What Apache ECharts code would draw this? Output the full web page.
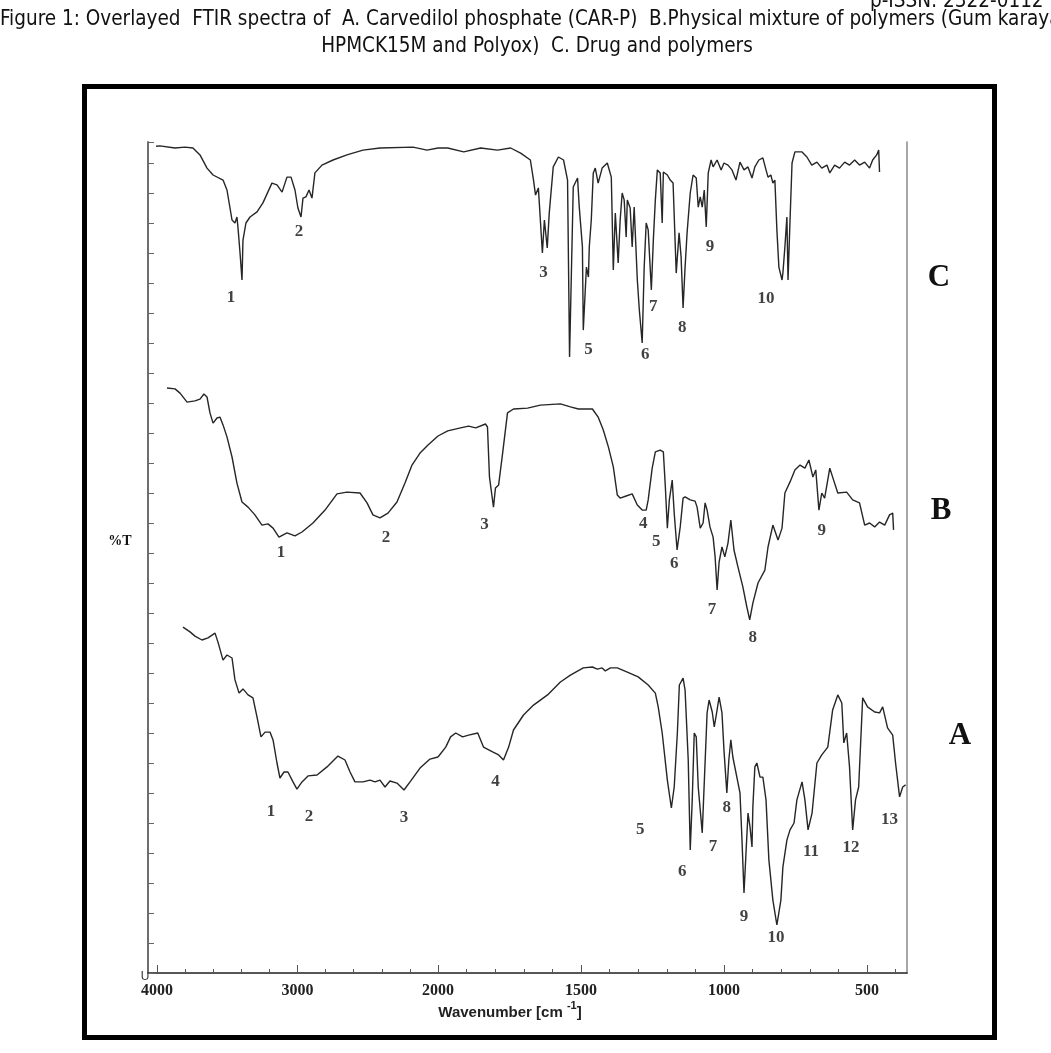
<!DOCTYPE html>
<html>
<head>
<meta charset="utf-8">
<script src="https://cdn.jsdelivr.net/npm/echarts@6/dist/echarts.min.js"></script>
<style>
html,body{margin:0;padding:0;background:#fff;}
#chart{width:1051px;height:1053px;}
</style>
</head>
<body>
<div id="chart"></div>
<script>
// ---- Data: [wavenumber (cm-1), %T (stacked display units)] ----
const specC = [
[4064,275.3],[3979,275.7],[3872,275],[3801,275.3],[3744,275],[3694,272.7],[3644,268.3],[3601,266],[3530,264.3],[3502,261],
[3466,251],[3445,250],[3431,252],[3424,248.7],[3409,240],[3395,231],[3388,244.3],[3367,250],[3338,252],[3288,253.7],
[3246,256.7],[3182,263.3],[3146,262.7],[3110,260.3],[3075,265.3],[3046,265.3],[3018,261],[2997,255],[2975,252],[2961,258.3],
[2940,258.7],[2918,261],[2897,258.3],[2876,266.7],[2826,269.3],[2747,271],[2648,272.7],[2534,274.3],[2413,275],[2178,275.3],
[2078,274.3],[2000,275],
[1966,275],[1910,273.7],[1851,275],[1792,274.3],[1746,275],[1711,273.3],[1677,271],[1666,264.3],[1659,259.3],[1649,261.7],
[1635,240],[1628,251],[1618,241.7],[1611,253.3],[1597,268.7],[1579,272],[1561,271],[1547,264.3],[1540,205.3],[1527,262],
[1512,265],[1506,255.3],[1495,242],[1492,214.3],[1481,235.3],[1474,232],[1471,242],[1464,251],[1457,266.7],[1450,268.3],
[1440,263.3],[1426,268.3],[1408,270],[1394,265.3],[1387,234.3],[1380,253.3],[1370,236.7],[1363,251],[1356,260],[1349,257.7],
[1342,245.3],[1338,257.7],[1328,255],[1321,242],[1314,255.3],[1303,231],[1296,221],[1286,210],[1279,235.3],[1272,250],
[1265,247.7],[1254,227.7],[1247,244.3],[1240,257.7],[1233,267.7],[1223,266.7],[1216,250],[1212,267],[1198,266],[1188,264.3],
[1178,263.3],[1167,233.3],[1157,246.7],[1150,238.7],[1143,221.7],[1136,235.3],[1129,246.7],[1118,260],[1108,266],[1097,265],
[1090,255.3],[1083,258.7],[1076,255.3],[1069,261],[1062,248.7],[1055,266.7],[1045,271],[1038,268.7],[1024,271],[1010,267.7],
[1000,270],[986,269.3],[972,267.7],[958,264.3],[944,270.3],[930,267.7],[916,268.7],[902,265],[892,268.7],[878,271],
[864,271.7],[853,267.7],[846,265.3],[836,266],[829,263.3],[822,264.3],[815,247.7],[808,235.3],[797,231],[794,233.3],
[787,242],[780,252],[776,231],[769,251],[762,270],[752,273.7],[727,273.7],[710,272],[693,269.3],[675,270.3],
[658,268.3],[640,269.3],[630,266.7],[613,269.3],[596,268.3],[578,270.3],[561,269.3],[543,271],[526,269.3],[508,270.3],
[491,268.3],[480,271],[466,272.7],[459,274.3],[456,267]
];
const specB = [
[3929,195],[3872,194.7],[3836,193.3],[3786,190.3],[3730,190.7],[3694,191.3],[3666,193],[3644,192],[3623,186.7],[3601,183.3],
[3573,185],[3552,185.3],[3530,182.7],[3502,178.7],[3466,172],[3431,163.3],[3395,157],[3352,155.3],[3303,152.7],[3253,149.3],
[3210,149.7],[3174,148.3],[3132,145.3],[3075,146.7],[3018,145.7],[2968,147],[2890,150],[2804,154.3],[2719,159.7],[2648,160.3],
[2555,160],[2505,156.7],[2463,152.7],[2413,151.7],[2356,153.3],[2292,157],[2235,163.3],[2185,169.3],[2128,173.3],[2071,176],
[2000,179],
[1966,180.7],[1921,181.7],[1893,182.3],[1868,181.7],[1834,183],[1827,182],[1820,165.3],[1806,155.3],[1799,161.7],[1788,162.7],
[1774,173.3],[1757,186.7],[1736,188],[1687,188.3],[1642,189.3],[1572,189.7],[1537,188.7],[1509,188],[1460,188],[1440,185.3],
[1422,181],[1404,175.3],[1387,168.7],[1373,159.3],[1363,158.3],[1342,159],[1321,159.7],[1303,156],[1286,154.3],[1272,154.3],
[1265,157.7],[1251,168.3],[1240,173.7],[1223,174.3],[1212,173.7],[1205,162],[1198,148.3],[1191,157.7],[1181,164.3],[1174,153.3],
[1164,141],[1153,148.7],[1143,158.3],[1136,158.7],[1118,157.7],[1101,157.3],[1094,155.3],[1083,148.3],[1073,150],[1066,156.7],
[1059,154.3],[1049,148.7],[1038,145.3],[1031,138.7],[1024,127.7],[1017,137],[1007,142],[997,138.7],[986,143.3],[976,151],
[965,141],[951,135.3],[934,128.7],[920,122],[910,117.7],[899,123.3],[881,130],[857,134.3],[846,142],[829,149.3],
[811,144.3],[797,148.3],[787,160],[769,163.7],[752,167.7],[734,169.3],[717,168.3],[703,171],[689,165.3],[679,167.7],
[668,154.3],[658,160],[648,158.3],[630,168.3],[620,165.3],[602,160],[571,160.3],[550,157.7],[526,156.7],[508,149.3],
[491,150],[473,148.7],[456,150.3],[438,149.3],[421,152.7],[410,153.3],[407,147.7]
];
const specA = [
[3815,115.3],[3765,113.7],[3730,112.3],[3680,111],[3637,111.7],[3587,113.3],[3566,110.3],[3530,104.3],[3502,106],[3466,105],
[3445,97.7],[3416,93.3],[3388,94.7],[3352,92.7],[3317,91.7],[3288,85.3],[3260,78.7],[3231,80.3],[3196,80.3],[3174,77.7],
[3146,70],[3125,65],[3096,67],[3068,67],[3032,63.7],[3004,61.3],[2968,63.7],[2925,65.7],[2861,66],[2790,68.7],
[2712,72.3],[2662,71],[2626,67],[2591,63.7],[2534,63.7],[2484,64.3],[2448,63.7],[2413,64.3],[2377,62],[2342,64],
[2292,63.3],[2242,61],[2199,63.7],[2128,68.3],[2057,71.3],[2000,72],
[1973,75.3],[1956,78.7],[1938,80],[1914,78.7],[1893,79.3],[1861,80],[1841,75.3],[1809,73.7],[1788,72.7],[1771,71],
[1753,75.3],[1736,81],[1701,86],[1666,89.3],[1617,92.7],[1572,97],[1537,99.3],[1492,101.7],[1460,102],[1443,101.3],
[1426,101.7],[1415,100.7],[1397,101.7],[1373,101.7],[1338,100.3],[1300,98.7],[1265,96],[1240,93.3],[1230,88.7],[1216,80],
[1198,64.3],[1184,55],[1174,62],[1163,80],[1156,96],[1143,98.3],[1136,94.3],[1125,71],[1118,41],[1111,57.7],
[1104,80],[1097,78.7],[1090,62],[1076,46.7],[1069,63.3],[1059,86.7],[1052,91],[1041,87],[1034,82],[1024,87.7],
[1017,92],[1007,86.7],[1000,74.3],[990,60],[983,71],[976,77.7],[969,72],[955,65.3],[944,60],[937,44.3],
[930,26.7],[923,40],[916,53.3],[909,48.7],[902,42],[899,55.3],[892,68.7],[885,70],[874,65.3],[864,65.3],
[853,57.7],[843,37.7],[829,24.3],[815,16],[801,24.3],[794,35.3],[780,44.3],[769,47.7],[755,50],[745,57.7],
[727,63.7],[717,57.7],[706,47.7],[692,53.3],[675,70],[658,72.7],[637,75.3],[620,87.7],[602,92.7],[588,90],
[581,76.7],[571,80],[561,68.7],[550,47.7],[540,57.7],[529,62],[515,91.7],[498,88.7],[473,87],[456,86.7],
[445,88.7],[428,81.7],[410,79.3],[400,70],[386,58.7],[375,62],[365,62.7]
];
// Peak numbers: [wavenumber, %T, label]
const peaksC = [[3473,225,'1'],[2989,247,'2'],[1631,233.3,'3'],[1474,207.7,'5'],[1275,206,'6'],[1247,222,'7'],[1146,215,'8'],[1049,242,'9'],[853,224.7,'10']];
const peaksB = [[3117,140,'1'],[2370,145,'2'],[1837,149.3,'3'],[1282,149.7,'4'],[1237,143.7,'5'],[1174,136.3,'6'],[1042,121,'7'],[899,111.7,'8'],[658,147.3,'9']];
const peaksA = [[3189,53.7,'1'],[2918,52,'2'],[2242,51.7,'3'],[1799,63.7,'4'],[1293,47.7,'5'],[1146,33.7,'6'],[1038,42,'7'],[990,55,'8'],[930,18.7,'9'],[818,11.7,'10'],[696,40.3,'11'],[556,41.7,'12'],[421,51,'13']];
// Axis tick labels
const leftTickInterval = 1000;
const rightMajorTicks = [1500, 1000, 500];
const rightMinorTicks = [1900,1800,1700,1600,1400,1300,1200,1100,900,800,700,600,400];
const spectrumNames = ['C','B','A'];

const chart = echarts.init(document.getElementById('chart'), null, {renderer:'canvas'});
const lineColor = '#262626';
const hi = p => p[0] >= 2000, lo = p => p[0] <= 2000;
const tickFont = {fontFamily:'"Liberation Serif", "Times New Roman", serif', fontWeight:'bold', fontSize:16, color:'#222', formatter: v => String(v)};
const peakLabel = {show:true, position:'inside', formatter: p => String(p.data[2]), fontFamily:'"Liberation Serif", "Times New Roman", serif', fontWeight:'bold', fontSize:17, color:'#111'};

const series = [];
[specC, specB, specA].forEach((s, i) => {
  series.push({type:'line', xAxisIndex:1, yAxisIndex:2, data:s.filter(hi), showSymbol:false, symbol:'none', clip:false, silent:true, animation:false, lineStyle:{color:lineColor, width:1.4}});
  series.push({type:'line', xAxisIndex:2, yAxisIndex:3, data:s.filter(lo), showSymbol:false, symbol:'none', clip:false, silent:true, animation:false, lineStyle:{color:lineColor, width:1.4}});
});
[peaksC, peaksB, peaksA].forEach(pk => {
  series.push({type:'scatter', xAxisIndex:1, yAxisIndex:2, data:pk.filter(p=>p[0]>2000), symbolSize:1, itemStyle:{color:'rgba(0,0,0,0)'}, label:peakLabel, silent:true, animation:false});
  series.push({type:'scatter', xAxisIndex:2, yAxisIndex:3, data:pk.filter(p=>p[0]<=2000), symbolSize:1, itemStyle:{color:'rgba(0,0,0,0)'}, label:peakLabel, silent:true, animation:false});
});

const hidden = {axisLine:{show:false}, axisTick:{show:false}, axisLabel:{show:false}, splitLine:{show:false}};
const titleFont = '20.5px "Liberation Sans Narrow", "DejaVu Sans Condensed", sans-serif';
const option = {
  backgroundColor:'#fff',
  animation:false,
  grid:[
    {left:148, top:142, width:759, height:831},
    {left:157, top:142, width:281, height:831},
    {left:438, top:142, width:469, height:831}
  ],
  xAxis:[
    Object.assign({gridIndex:0, type:'value', position:'top', min:0, max:1}, hidden, {axisLine:{show:true, lineStyle:{color:'#222', width:1.5}}}),
    {gridIndex:1, type:'value', inverse:true, min:2000, max:4000, interval:leftTickInterval,
      axisLine:{show:true, lineStyle:{color:'#555', width:1}},
      axisTick:{show:true, inside:true, length:8, lineStyle:{color:'#555'}},
      minorTick:{show:true, splitNumber:5, length:4, lineStyle:{color:'#555'}},
      axisLabel:Object.assign({margin:10}, tickFont), splitLine:{show:false}},
    {gridIndex:2, type:'value', inverse:true, min:360, max:2000,
      axisLine:{show:true, lineStyle:{color:'#555', width:1}},
      axisTick:{show:true, inside:true, length:8, customValues:rightMajorTicks, lineStyle:{color:'#555'}},
      axisLabel:Object.assign({margin:10, customValues:rightMajorTicks}, tickFont), splitLine:{show:false}},
    {gridIndex:2, type:'value', inverse:true, min:360, max:2000, position:'bottom',
      axisLine:{show:false}, axisLabel:{show:false}, splitLine:{show:false},
      axisTick:{show:true, inside:true, length:4, customValues:rightMinorTicks, lineStyle:{color:'#555'}}}
  ],
  yAxis:[
    {gridIndex:0, type:'value', min:0, max:277, interval:10,
      axisLine:{show:true, lineStyle:{color:'#6e6e6e', width:2}},
      axisTick:{show:true, inside:true, length:6, lineStyle:{color:'#666'}},
      axisLabel:{show:false}, splitLine:{show:false}},
    Object.assign({gridIndex:0, type:'value', position:'right', min:0, max:277}, hidden, {axisLine:{show:true, lineStyle:{color:'#888', width:1.5}}}),
    Object.assign({gridIndex:1, type:'value', min:0, max:277}, hidden),
    Object.assign({gridIndex:2, type:'value', min:0, max:277}, hidden)
  ],
  series: series,
  graphic:[
    {type:'rect', shape:{x:84.5, y:86.5, width:910, height:951}, style:{fill:'none', stroke:'#000', lineWidth:5}, silent:true},
    {type:'text', style:{text:'p-ISSN: 2322-0112', x:870, y:-9, font:titleFont, fill:'#111'}},
    {type:'text', style:{text:'Figure 1: Overlayed  FTIR spectra of  A. Carvedilol phosphate (CAR-P)  B.Physical mixture of polymers (Gum karaya', x:0, y:9, font:titleFont, fill:'#111'}},
    {type:'text', style:{text:'HPMCK15M and Polyox)  C. Drug and polymers', x:537, y:36, align:'center', textAlign:'center', font:titleFont, fill:'#111'}},
    {type:'text', style:{text:spectrumNames[0], x:939, y:278, align:'center', verticalAlign:'middle', textAlign:'center', textVerticalAlign:'middle', font:'bold 31px "Liberation Serif", serif', fill:'#111'}},
    {type:'text', style:{text:spectrumNames[1], x:941, y:511, align:'center', verticalAlign:'middle', textAlign:'center', textVerticalAlign:'middle', font:'bold 31px "Liberation Serif", serif', fill:'#111'}},
    {type:'text', style:{text:spectrumNames[2], x:960, y:736, align:'center', verticalAlign:'middle', textAlign:'center', textVerticalAlign:'middle', font:'bold 31px "Liberation Serif", serif', fill:'#111'}},
    {type:'text', style:{text:'%T', x:120, y:541, align:'center', verticalAlign:'middle', textAlign:'center', textVerticalAlign:'middle', font:'bold 14px "Liberation Serif", serif', fill:'#111'}},
    {type:'text', style:{text:'U', x:145, y:977, align:'center', verticalAlign:'middle', textAlign:'center', textVerticalAlign:'middle', font:'12px "Liberation Sans", sans-serif', fill:'#333'}},
    {type:'text', style:{text:'{n|Wavenumber [cm }{s|-1}{n|]}', x:510, y:1010, align:'center', verticalAlign:'middle', textAlign:'center', textVerticalAlign:'middle',
      rich:{n:{font:'bold 15px "Liberation Sans", Arial, sans-serif', fill:'#222', verticalAlign:'bottom', lineHeight:20}, s:{font:'bold 11px "Liberation Sans", Arial, sans-serif', fill:'#222', verticalAlign:'top', lineHeight:20}}}}
  ]
};
chart.setOption(option);
</script>
</body>
</html>
